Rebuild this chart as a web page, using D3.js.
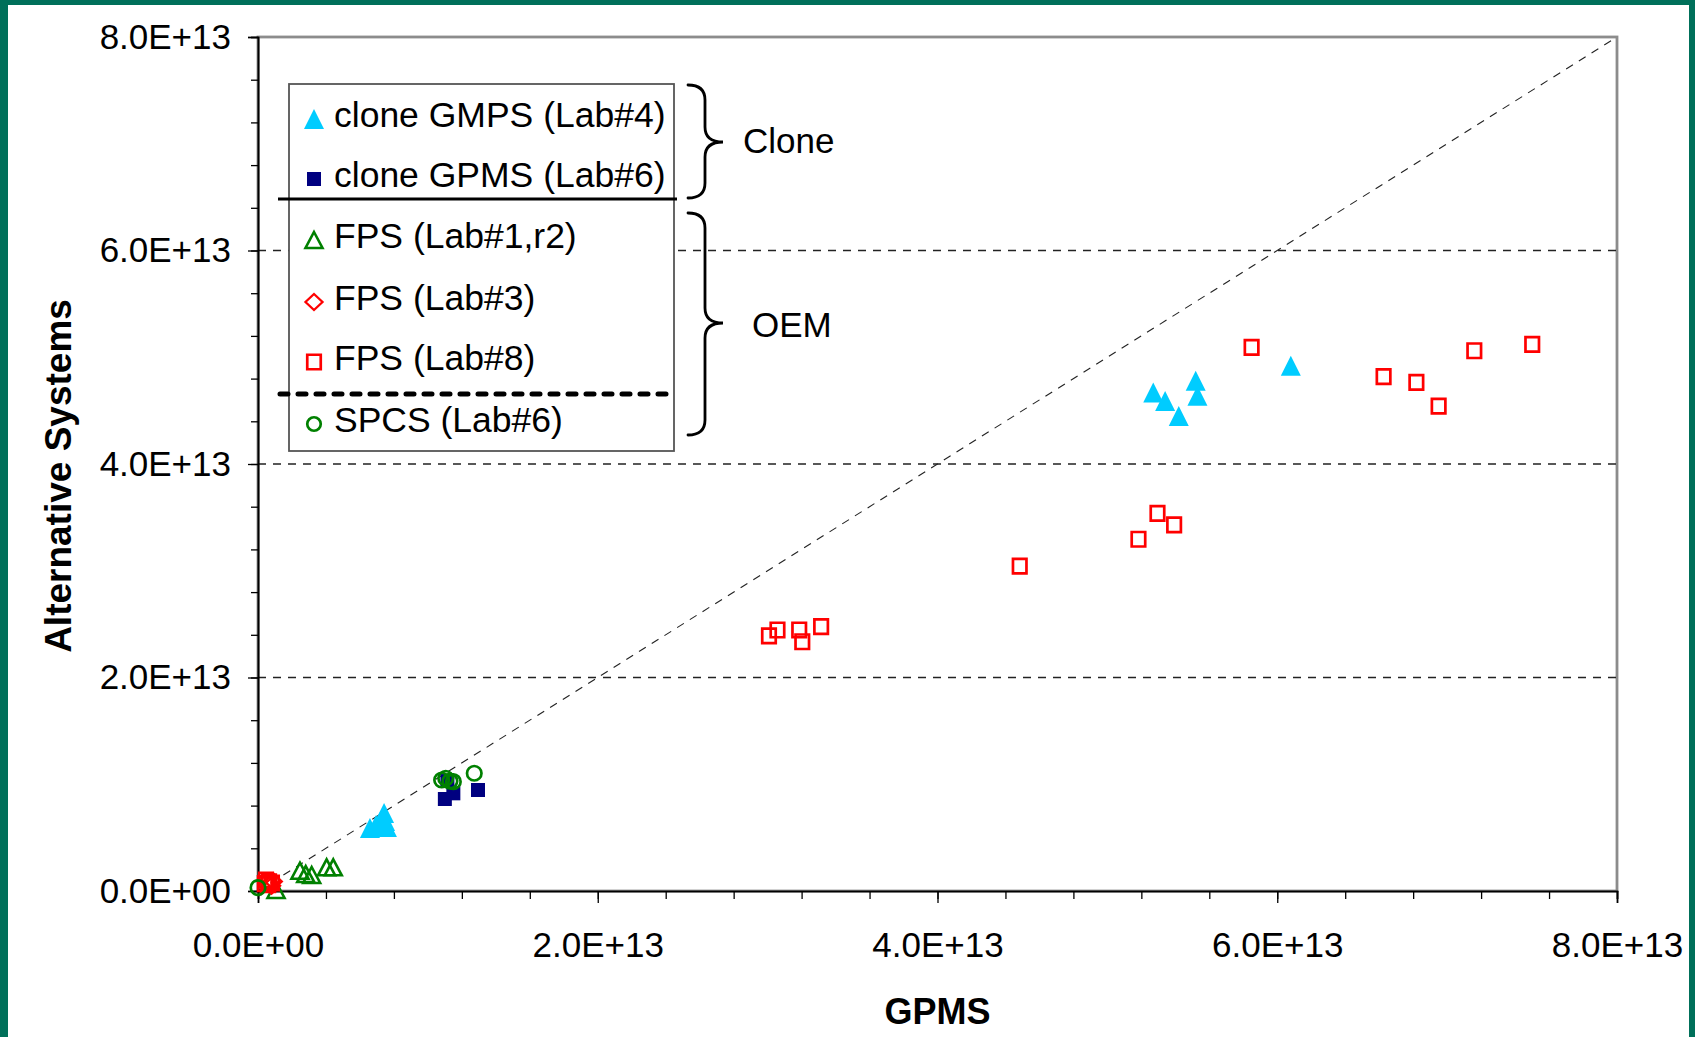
<!DOCTYPE html>
<html><head><meta charset="utf-8">
<script src="https://cdn.jsdelivr.net/npm/d3@7"></script>
<style>
body{margin:0;background:#fff}
svg{display:block}
text{font-family:"Liberation Sans",Arial,Helvetica,sans-serif;fill:#000}
</style>
</head><body>
<svg id="chart" width="1695" height="1037"></svg>
<script>
// ---------- data (values in units of 1E13) ----------
const tickValues = [0, 2, 4, 6, 8];
const xTickLabels = ["0.0E+00", "2.0E+13", "4.0E+13", "6.0E+13", "8.0E+13"];
const yTickLabels = ["0.0E+00", "2.0E+13", "4.0E+13", "6.0E+13", "8.0E+13"];
const minorTickValues = d3.range(0, 8.0001, 0.4);
const gridValues = [2, 4, 6];

const cloneGMPS_Lab4 = [
  [5.27, 4.67], [5.34, 4.59], [5.42, 4.45], [5.52, 4.78], [5.53, 4.64], [6.08, 4.92],
  [0.659, 0.590], [0.695, 0.618], [0.742, 0.731], [0.748, 0.656], [0.759, 0.600], [0.718, 0.646]
];
const cloneGPMS_Lab6 = [
  [1.100, 0.862], [1.150, 0.915], [1.295, 0.946], [1.115, 1.030]
];
const fps_Lab1r2 = [
  [0.247, 0.190], [0.281, 0.159], [0.316, 0.150], [0.404, 0.222], [0.443, 0.222], [0.106, 0.010]
];
const fps_Lab3 = [
  [0.070, 0.070], [0.090, 0.090], [0.080, 0.050]
];
const fps_Lab8 = [
  [5.849, 5.093], [6.626, 4.818], [6.819, 4.765], [6.950, 4.543], [7.160, 5.061], [7.501, 5.121],
  [4.484, 3.044], [5.183, 3.295], [5.295, 3.538], [5.393, 3.429],
  [3.008, 2.389], [3.058, 2.445], [3.186, 2.445], [3.204, 2.335], [3.315, 2.476],
  [0.047, 0.103], [0.065, 0.085], [0.082, 0.075], [0.060, 0.060], [0.040, 0.070]
];
const spcs_Lab6 = [
  [1.081, 1.040], [1.105, 1.056], [1.130, 1.030], [1.150, 1.024], [1.273, 1.103], [0.000, 0.031]
];
const legendLabels = ["clone GMPS (Lab#4)", "clone GPMS (Lab#6)", "FPS (Lab#1,r2)", "FPS (Lab#3)", "FPS (Lab#8)", "SPCS (Lab#6)"];
const groupLabels = ["Clone", "OEM"];
const xTitle = "GPMS";
const yTitle = "Alternative Systems";

// ---------- layout ----------
const W = 1695, H = 1037;
const L = 258, R = 1617, T = 37, B = 891;
const svg = d3.select("#chart");

// frame (green border)
const green = "#00705A";
svg.append("rect").attr("x", 0).attr("y", 0).attr("width", W).attr("height", H).attr("fill", "#fff");
svg.append("rect").attr("x", 0).attr("y", 0).attr("width", 8).attr("height", H).attr("fill", green);
svg.append("rect").attr("x", 0).attr("y", 0).attr("width", W).attr("height", 5).attr("fill", green);
svg.append("rect").attr("x", W - 6).attr("y", 0).attr("width", 6).attr("height", H).attr("fill", green);

const x = d3.scaleLinear().domain([0, 8]).range([L, R]);
const y = d3.scaleLinear().domain([0, 8]).range([B, T]);

// plot area border
svg.append("rect").attr("x", L).attr("y", T).attr("width", R - L).attr("height", B - T)
  .attr("fill", "none").attr("stroke", "#8c8c8c").attr("stroke-width", 2.8);

// gridlines
svg.append("g").selectAll("line").data(gridValues).join("line")
  .attr("x1", L).attr("x2", R).attr("y1", d => y(d)).attr("y2", d => y(d))
  .attr("stroke", "#222").attr("stroke-width", 1.3).attr("stroke-dasharray", "8,7");

// diagonal y = x
svg.append("line")
  .attr("x1", x(0)).attr("y1", y(0)).attr("x2", x(8)).attr("y2", y(8))
  .attr("stroke", "#222").attr("stroke-width", 1.1).attr("stroke-dasharray", "8,7");

// axes
const fs = 35;
const yAxisMinor = d3.axisLeft(y).tickValues(minorTickValues).tickSize(7).tickFormat("");
const yAxisMajor = d3.axisLeft(y).tickValues(tickValues).tickSize(10).tickPadding(17)
  .tickFormat((d, i) => yTickLabels[i]);
const xAxisMinor = d3.axisBottom(x).tickValues(minorTickValues).tickSize(8).tickFormat("");
const xAxisMajor = d3.axisBottom(x).tickValues(tickValues).tickSize(12).tickPadding(29)
  .tickFormat((d, i) => xTickLabels[i]);

function styleAxis(g) {
  g.selectAll(".domain").attr("stroke", "#000").attr("stroke-width", 1.6);
  g.selectAll(".tick line").attr("stroke", "#000").attr("stroke-width", 1.3);
  g.selectAll("text").attr("font-size", fs).attr("fill", "#000")
    .attr("font-family", "Liberation Sans, Arial, sans-serif");
}
svg.append("g").attr("transform", `translate(${L},0)`).call(yAxisMinor).call(styleAxis);
svg.append("g").attr("transform", `translate(${L},0)`).call(yAxisMajor).call(styleAxis);
svg.append("g").attr("transform", `translate(0,${B})`).call(xAxisMinor).call(styleAxis);
svg.append("g").attr("transform", `translate(0,${B})`).call(xAxisMajor).call(styleAxis);

// axis titles
svg.append("text").attr("x", (L + R) / 2).attr("y", 1024).attr("text-anchor", "middle")
  .attr("font-size", 36).attr("font-weight", "bold").text(xTitle);
svg.append("text").attr("transform", `translate(71,476) rotate(-90)`).attr("text-anchor", "middle")
  .attr("font-size", 37).attr("font-weight", "bold").text(yTitle);

// ---------- marker shapes ----------
const shapes = {
  triUp: (w, h) => `M0,${-h / 2}L${w / 2},${h / 2}L${-w / 2},${h / 2}Z`,
  square: (w, h) => `M${-w / 2},${-h / 2}h${w}v${h}h${-w}Z`,
  diamond: (w, h) => `M0,${-h / 2}L${w / 2},0L0,${h / 2}L${-w / 2},0Z`,
  circle: (w) => d3.arc()({innerRadius: 0, outerRadius: w / 2, startAngle: 0, endAngle: 2 * Math.PI})
};
const seriesStyles = [
  {data: cloneGMPS_Lab4, shape: "triUp", w: 20, h: 20, fill: "#00CCFF", stroke: "none", sw: 0},
  {data: cloneGPMS_Lab6, shape: "square", w: 14, h: 14, fill: "#000080", stroke: "none", sw: 0},
  {data: fps_Lab1r2, shape: "triUp", w: 17, h: 16, fill: "none", stroke: "#008000", sw: 2.6},
  {data: fps_Lab3, shape: "diamond", w: 17, h: 16, fill: "none", stroke: "#FF0000", sw: 2.3},
  {data: fps_Lab8, shape: "square", w: 13.5, h: 14.5, fill: "none", stroke: "#FF0000", sw: 2.7},
  {data: spcs_Lab6, shape: "circle", w: 14.5, h: 14.5, fill: "none", stroke: "#008000", sw: 2.7}
];

seriesStyles.forEach(s => {
  svg.append("g").selectAll("path").data(s.data).join("path")
    .attr("transform", d => `translate(${x(d[0])},${y(d[1])})`)
    .attr("d", shapes[s.shape](s.w, s.h))
    .attr("fill", s.fill).attr("stroke", s.stroke).attr("stroke-width", s.sw)
    .attr("stroke-linejoin", "miter");
});

// ---------- legend ----------
const lg = svg.append("g");
lg.append("rect").attr("x", 289).attr("y", 84).attr("width", 385).attr("height", 367)
  .attr("fill", "#fff").attr("stroke", "#555").attr("stroke-width", 1.8);
const rowBaselines = [127, 187, 248, 310, 370, 432];
legendLabels.forEach((lab, i) => {
  const s = seriesStyles[i];
  const lw = s.shape === "circle" ? 13.5 : s.w;
  lg.append("path").attr("transform", `translate(314,${rowBaselines[i] - 8})`)
    .attr("d", shapes[s.shape](lw, s.h))
    .attr("fill", s.fill).attr("stroke", s.stroke).attr("stroke-width", s.sw);
  lg.append("text").attr("x", 334).attr("y", rowBaselines[i]).attr("font-size", 35.5).text(lab);
});
lg.append("line").attr("x1", 278).attr("x2", 677).attr("y1", 199).attr("y2", 199)
  .attr("stroke", "#000").attr("stroke-width", 2.8);
lg.append("line").attr("x1", 280).attr("x2", 676).attr("y1", 394).attr("y2", 394)
  .attr("stroke", "#000").attr("stroke-width", 5).attr("stroke-linecap", "round")
  .attr("stroke-dasharray", "8,10");

// braces
function brace(top, bottom, mid) {
  const a = 688, s = 705, p = 723, r = 15;
  return `M${a},${top} Q${s},${top} ${s},${top + r} L${s},${mid - r} Q${s},${mid} ${p},${mid}` +
    ` Q${s},${mid} ${s},${mid + r} L${s},${bottom - r} Q${s},${bottom} ${a},${bottom}`;
}
svg.append("path").attr("d", brace(85, 198, 142)).attr("fill", "none")
  .attr("stroke", "#000").attr("stroke-width", 2.8).attr("stroke-linecap", "round");
svg.append("path").attr("d", brace(213, 435, 323)).attr("fill", "none")
  .attr("stroke", "#000").attr("stroke-width", 2.8).attr("stroke-linecap", "round");
svg.append("text").attr("x", 743).attr("y", 153).attr("font-size", fs).text(groupLabels[0]);
svg.append("text").attr("x", 752).attr("y", 337).attr("font-size", fs).text(groupLabels[1]);
</script>
</body></html>
